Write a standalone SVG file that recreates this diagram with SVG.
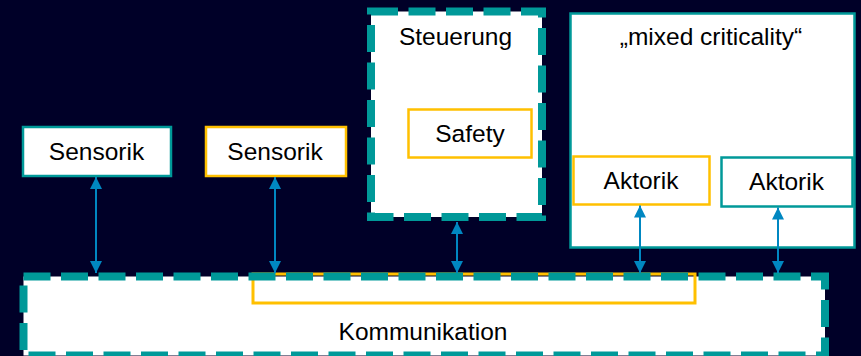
<svg xmlns="http://www.w3.org/2000/svg" width="861" height="356" viewBox="0 0 861 356">
<style>
.t{font-family:"Liberation Sans",Arial,sans-serif;font-size:24.5px;fill:#000;text-anchor:middle}
.teal{fill:#fff;stroke:#009999;stroke-width:2.5}
.yel{fill:#fff;stroke:#FFC000;stroke-width:2.5}
.dash{stroke:#009999;stroke-width:8;stroke-dasharray:27 10.5}
.conn line{stroke:#0087C1;stroke-width:2;marker-start:url(#ah);marker-end:url(#ah)}
</style>
<defs>
<marker id="ah" viewBox="0 0 12 12" refX="12" refY="6" markerWidth="12" markerHeight="12" markerUnits="userSpaceOnUse" orient="auto-start-reverse">
<path d="M0,0 L12,6 L0,12 Z" fill="#0087C1"/>
</marker>
</defs>
<rect width="861" height="356" fill="#000028"/>
<g id="kommunikation">
<rect x="23.5" y="276.5" width="801.5" height="79" fill="#fff"/>
<rect id="safety-comm" x="253" y="274" width="442" height="29" fill="none" stroke="#FFC000" stroke-width="3"/>
<rect class="dash" x="23.5" y="276.5" width="801.5" height="79" fill="none"/>
<text class="t" x="423" y="340">Kommunikation</text>
</g>
<g id="sensorik1">
<rect class="teal" x="23" y="127" width="148" height="49"/>
<text class="t" x="96.5" y="160">Sensorik</text>
</g>
<g id="sensorik2">
<rect class="yel" x="206" y="127" width="140" height="49"/>
<text class="t" x="275" y="160">Sensorik</text>
</g>
<g id="steuerung">
<rect class="dash" x="371" y="11.5" width="171" height="205.5" fill="#fff"/>
<text class="t" x="455.5" y="45">Steuerung</text>
</g>
<g id="safety">
<rect class="yel" x="408.5" y="109.5" width="123" height="48"/>
<text class="t" x="470" y="142">Safety</text>
</g>
<g id="mixed">
<rect class="teal" x="570.5" y="13.5" width="284" height="234"/>
<text class="t" x="711" y="45">„mixed criticality“</text>
</g>
<g id="aktorik1">
<rect class="yel" x="573.5" y="156.5" width="136" height="48"/>
<text class="t" x="641" y="189">Aktorik</text>
</g>
<g id="aktorik2">
<rect class="teal" x="721.5" y="157.5" width="131" height="49"/>
<text class="t" x="786.5" y="190">Aktorik</text>
</g>
<g id="connectors" class="conn">
<line x1="96" y1="177" x2="96" y2="273"/>
<line x1="275" y1="177" x2="275" y2="273"/>
<line x1="457" y1="222" x2="457" y2="273"/>
<line x1="640" y1="205.5" x2="640" y2="273"/>
<line x1="778" y1="207.5" x2="778" y2="273"/>
</g>
</svg>
